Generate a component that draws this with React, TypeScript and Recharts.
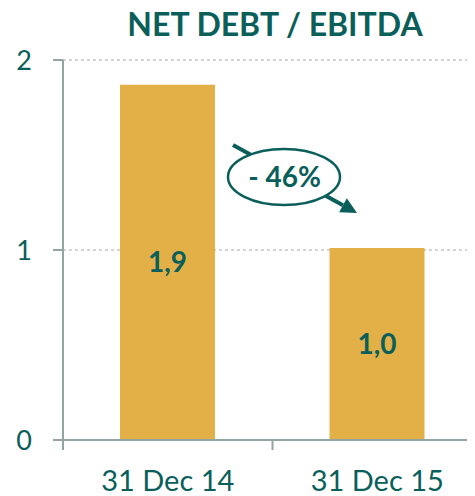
import React from "react";
import {
  BarChart,
  Bar,
  XAxis,
  YAxis,
  CartesianGrid,
  LabelList,
  Customized,
} from "recharts";

const categories = ["31 Dec 14", "31 Dec 15"];
const netDebtEbitda = [1.87, 1.01];
const yTicks = [0, 1, 2];
const titleText = "NET DEBT / EBITDA";
const changeText = "- 46%";

const data = categories.map((c, i) => ({ name: c, value: netDebtEbitda[i] }));

const TEAL = "#0B5F5A";
const BAR = "#E3B048";
const AXIS = "#93A5A2";
const FONT = "Lato, 'Open Sans', sans-serif";

const X_TICK_SIZE = 0;
const X_TICK_MARGIN = 30;

const XTick = (props: any) => {
  const { x, y, payload, index } = props;
  const half = payload && payload.offset ? payload.offset : 105;
  const axisY = y - X_TICK_MARGIN - X_TICK_SIZE;
  return (
    <g>
      <line x1={x - half} y1={axisY} x2={x - half} y2={axisY + 10} stroke={AXIS} strokeWidth={2} />
      {index === categories.length - 1 && (
        <line x1={x + half} y1={axisY} x2={x + half} y2={axisY + 10} stroke={AXIS} strokeWidth={2} />
      )}
      <text x={x} y={y} dy="0.71em" textAnchor="middle" fill={TEAL} fontSize={29} fontFamily={FONT}>
        {payload.value}
      </text>
    </g>
  );
};

const Annotation = () => {
  const sx = 225, sy = 137;
  const tx = 349, ty = 205;
  const dx = tx - sx, dy = ty - sy;
  const len = Math.sqrt(dx * dx + dy * dy);
  const ux = dx / len, uy = dy / len;
  const hl = 16, hw = 8;
  const bx = tx - ux * hl, by = ty - uy * hl;
  const px = -uy * hw, py = ux * hw;
  return (
    <g>
      <line x1={sx} y1={sy} x2={bx} y2={by} stroke={TEAL} strokeWidth={4} />
      <polygon points={`${tx},${ty} ${bx + px},${by + py} ${bx - px},${by - py}`} fill={TEAL} />
      <ellipse cx={276} cy={169} rx={56} ry={28} fill="#fff" stroke={TEAL} strokeWidth={2.5} />
      <text x={276.5} y={179} textAnchor="middle" fill={TEAL} fontSize={28} fontWeight="bold" fontFamily={FONT}>
        {changeText}
      </text>
    </g>
  );
};

const fmt = (v: any) => Number(v).toFixed(1).replace(".", ",");

export default function App() {
  return (
    <div style={{ position: "relative", width: 467, height: 488 }}>
      <div
        style={{
          position: "absolute",
          top: -2.6,
          left: 67,
          width: 400,
          textAlign: "center",
          fontFamily: FONT,
          fontWeight: "bold",
          fontSize: 32,
          lineHeight: "38.4px",
          color: TEAL,
          whiteSpace: "nowrap",
          zIndex: 2,
        }}
      >
        {titleText}
      </div>
      <div style={{ width: 467, height: 488, overflow: "hidden" }}>
        <BarChart
          width={480}
          height={488}
          data={data}
          margin={{ top: 52, right: 6, bottom: 6, left: 0 }}
          barSize={95}
        >
          <CartesianGrid horizontal vertical={false} stroke="#A8A8A8" strokeDasharray="3 3" />
          <XAxis
            dataKey="name"
            height={50}
            axisLine={{ stroke: AXIS, strokeWidth: 2 }}
            tickLine={false}
            tickSize={X_TICK_SIZE}
            tickMargin={X_TICK_MARGIN}
            tick={<XTick />}
            interval={0}
          />
          <YAxis
            width={55}
            domain={[0, 2]}
            ticks={yTicks}
            axisLine={{ stroke: AXIS, strokeWidth: 2 }}
            tickLine={{ stroke: AXIS, strokeWidth: 2 }}
            tickSize={10}
            tickMargin={21}
            tick={{ fill: TEAL, fontSize: 27, fontFamily: FONT }}
          />
          <Bar dataKey="value" fill={BAR} isAnimationActive={false}>
            <LabelList
              dataKey="value"
              position="center"
              formatter={fmt}
              fill={TEAL}
              fontSize={28}
              fontWeight="bold"
              fontFamily={FONT}
            />
          </Bar>
          <Customized component={Annotation} />
        </BarChart>
      </div>
    </div>
  );
}
